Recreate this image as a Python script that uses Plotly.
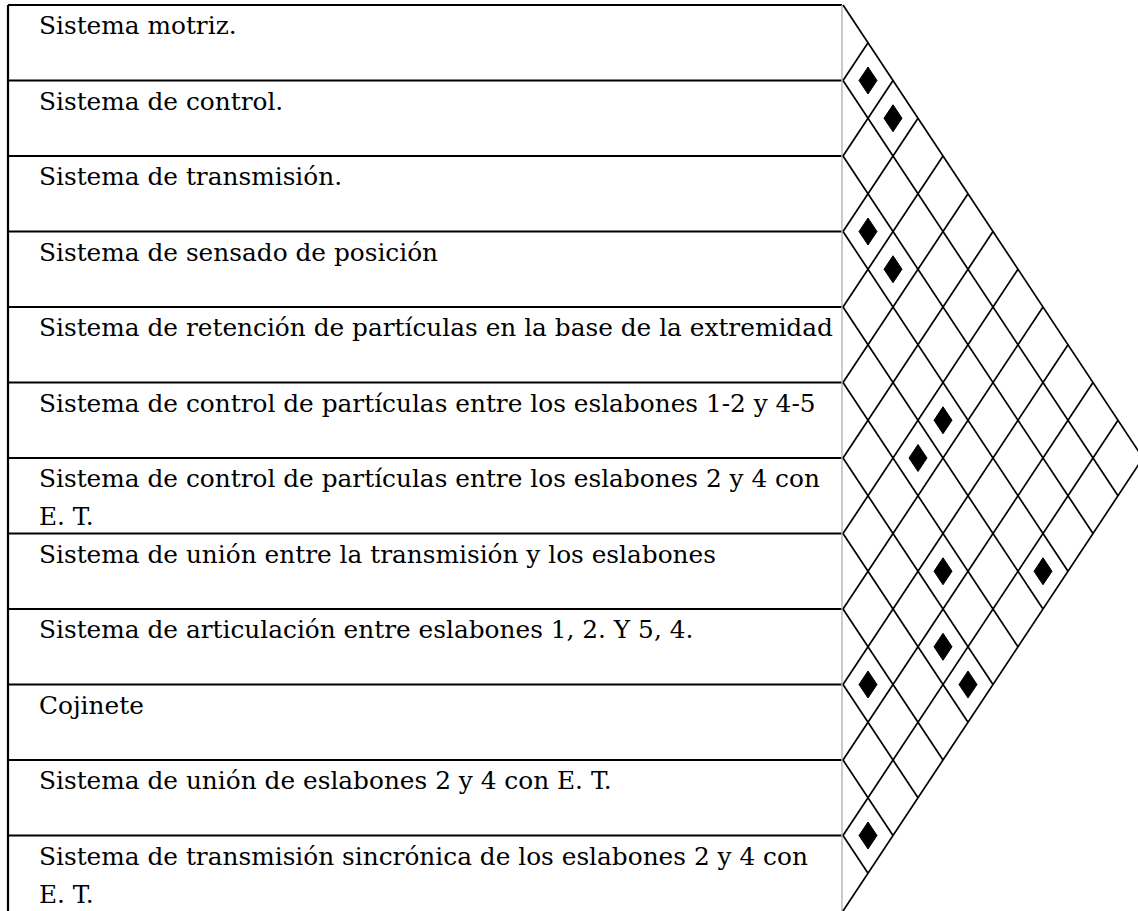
import plotly.graph_objects as go

# ---- data ----
labels = [
    ["Sistema motriz."],
    ["Sistema de control."],
    ["Sistema de transmisión."],
    ["Sistema de sensado de posición"],
    ["Sistema de retención de partículas en la base de la extremidad"],
    ["Sistema de control de partículas entre los eslabones 1-2 y 4-5"],
    ["Sistema de control de partículas entre los eslabones 2 y 4 con", "E. T."],
    ["Sistema de unión entre la transmisión y los eslabones"],
    ["Sistema de articulación entre eslabones 1, 2. Y 5, 4."],
    ["Cojinete"],
    ["Sistema de unión de eslabones 2 y 4 con E. T."],
    ["Sistema de transmisión sincrónica de los eslabones 2 y 4 con", "E. T."],
]
# interactions marked with a black diamond (row index i, row index j)
pair_i = [0, 0, 2, 2, 3, 4, 5, 3, 6, 8, 6, 10]
pair_j = [1, 2, 3, 4, 7, 7, 9, 11, 10, 9, 11, 11]

# ---- layout constants (pixels) ----
W, H = 1138, 911
TOP = 5
ROW_H = 75.5
TABLE_L = 8
TABLE_R = 842
TRI_X = 843
STEP_X = 25
TEXT_X = 39
TEXT_DY = 23
LINE_GAP = 38
MW, MH = 9, 13.5
FONT = "DejaVu Serif"
FS = 24.8

n = len(labels)
bounds = [TOP + k * ROW_H for k in range(n + 1)]
centers = [TOP + (k + 0.5) * ROW_H for k in range(n)]

fig = go.Figure()

# table horizontal lines (the last boundary falls on the page edge)
hx, hy = [], []
for b in bounds[:-1]:
    hx += [TABLE_L, TABLE_R, None]
    hy += [b, b, None]
fig.add_trace(go.Scatter(x=hx, y=hy, mode="lines", line=dict(color="black", width=2.2),
                         hoverinfo="skip", showlegend=False))
# left border
fig.add_trace(go.Scatter(x=[TABLE_L, TABLE_L], y=[TOP, bounds[-1]], mode="lines",
                         line=dict(color="black", width=2.2), hoverinfo="skip", showlegend=False))
# right border (light)
fig.add_trace(go.Scatter(x=[TABLE_R, TABLE_R], y=[TOP, bounds[-1]], mode="lines",
                         line=dict(color="#b8b8b8", width=1.5), hoverinfo="skip", showlegend=False))

# triangular interaction grid
gx, gy = [], []
for i in range(n):
    gx += [TRI_X, TRI_X + (n - i) * STEP_X, None]
    gy += [bounds[i], centers[i] + (n - 1 - i) * ROW_H / 2, None]
for j in range(n):
    gx += [TRI_X, TRI_X + (j + 1) * STEP_X, None]
    gy += [bounds[j + 1], centers[j] - j * ROW_H / 2, None]
fig.add_trace(go.Scatter(x=gx, y=gy, mode="lines", line=dict(color="black", width=1.7),
                         hoverinfo="skip", showlegend=False))

# diamonds
dx, dy = [], []
for i, j in zip(pair_i, pair_j):
    cx = TRI_X + (j - i) * STEP_X
    cy = (centers[i] + centers[j]) / 2
    dx += [cx - MW, cx, cx + MW, cx, cx - MW, None]
    dy += [cy, cy - MH, cy, cy + MH, cy, None]
fig.add_trace(go.Scatter(x=dx, y=dy, mode="lines", fill="toself", fillcolor="black",
                         line=dict(color="black", width=1), hoverinfo="skip", showlegend=False))

# row labels (one text item per line)
tx, ty, tt = [], [], []
for k, lines in enumerate(labels):
    for m, line in enumerate(lines):
        tx.append(TEXT_X)
        ty.append(bounds[k] + TEXT_DY + m * LINE_GAP)
        tt.append(line)
fig.add_trace(go.Scatter(x=tx, y=ty, mode="text", text=tt, textposition="middle right",
                         textfont=dict(family=FONT, size=FS, color="black"),
                         hoverinfo="skip", showlegend=False))

fig.update_layout(
    width=W, height=H, margin=dict(l=0, r=0, t=0, b=0),
    paper_bgcolor="white", plot_bgcolor="white",
    xaxis=dict(range=[0, W], visible=False, fixedrange=True),
    yaxis=dict(range=[H, 0], visible=False, fixedrange=True),
)
fig.write_html("out.html", config={"displayModeBar": False},
               post_script="document.body.style.margin='0';document.body.style.overflow='hidden';")
